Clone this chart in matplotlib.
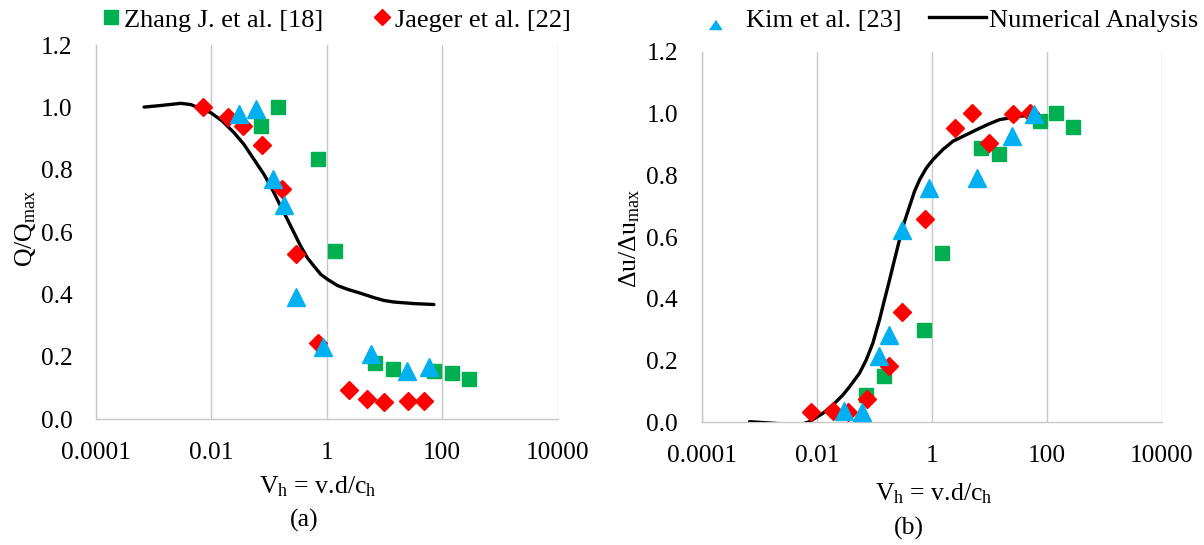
import matplotlib
matplotlib.use('Agg')
import matplotlib.pyplot as plt
from matplotlib.lines import Line2D

plt.rcParams['font.family'] = ['Liberation Serif', 'DejaVu Serif']
plt.rcParams['mathtext.fontset'] = 'custom'
plt.rcParams['mathtext.rm'] = 'Liberation Serif'
plt.rcParams['mathtext.it'] = 'Liberation Serif:italic'

# ---------------- data: panel (a) ----------------
a_zhang_x = [0.143, 0.071, 0.69, 1.41, 6.9, 14.1, 70.8, 144.5, 288]
a_zhang_y = [1.0, 0.94, 0.833, 0.54, 0.18, 0.16, 0.154, 0.148, 0.128]

a_jaeger_x = [0.0072, 0.019, 0.035, 0.074, 0.17, 0.295, 0.69, 2.45, 4.9, 9.8, 25, 49]
a_jaeger_y = [1.0, 0.969, 0.94, 0.881, 0.739, 0.529, 0.246, 0.093, 0.066, 0.057, 0.059, 0.059]

a_kim_x = [0.0295, 0.059, 0.115, 0.178, 0.295, 0.87, 5.9, 24, 60]
a_kim_y = [0.98, 0.996, 0.771, 0.688, 0.393, 0.233, 0.208, 0.155, 0.169]

a_num_x = [0.00068, 0.00132, 0.00294, 0.00439, 0.00653, 0.00973, 0.0155, 0.0246,
           0.0367, 0.0547, 0.0815, 0.106, 0.148, 0.207, 0.270, 0.352, 0.459,
           0.598, 0.782, 1.02, 1.52, 2.26, 3.85, 6.55, 9.75, 14.5, 32.2, 71.6]
a_num_y = [1.001, 1.006, 1.013, 1.009, 0.996, 0.983, 0.956, 0.919,
           0.881, 0.833, 0.785, 0.748, 0.694, 0.641, 0.598, 0.555, 0.518,
           0.491, 0.465, 0.449, 0.429, 0.417, 0.404, 0.390, 0.381, 0.376, 0.371, 0.368]

# ---------------- data: panel (b) ----------------
b_zhang_x = [145, 288, 76, 7.2, 14.5, 1.48, 0.72, 0.145, 0.072]
b_zhang_y = [1.0, 0.955, 0.975, 0.888, 0.868, 0.547, 0.30, 0.149, 0.09]

b_jaeger_x = [0.0078, 0.019, 0.035, 0.076, 0.178, 0.30, 0.76, 2.5, 5.0, 10, 25.7, 50]
b_jaeger_y = [0.033, 0.037, 0.032, 0.075, 0.183, 0.357, 0.657, 0.954, 1.0, 0.905, 0.999, 1.0]

b_kim_x = [0.030, 0.060, 0.123, 0.182, 0.30, 0.91, 6.0, 24.5, 60]
b_kim_y = [0.037, 0.033, 0.216, 0.284, 0.624, 0.76, 0.79, 0.928, 0.999]

b_num_x = [0.00068, 0.00172, 0.0050, 0.00746, 0.0127, 0.0190, 0.0283, 0.0371,
           0.0553, 0.0723, 0.0942, 0.123, 0.150, 0.184, 0.224, 0.274, 0.335,
           0.409, 0.500, 0.611, 0.800, 1.04, 1.55, 2.32, 3.96, 5.92, 10.1,
           15.0, 33.5, 65.5]
b_num_y = [0.002, -0.003, -0.009, 0.002, 0.029, 0.056, 0.088, 0.115,
           0.159, 0.202, 0.256, 0.332, 0.396, 0.461, 0.526, 0.591, 0.650,
           0.699, 0.748, 0.785, 0.823, 0.850, 0.883, 0.910, 0.931, 0.947, 0.967,
           0.980, 0.991, 0.996]

x_ticks = [1e-4, 1e-2, 1, 1e2, 1e4]
x_tick_labels = ['0.0001', '0.01', '1', '100', '10000']
y_ticks = [0.0, 0.2, 0.4, 0.6, 0.8, 1.0, 1.2]
y_tick_labels = ['0.0', '0.2', '0.4', '0.6', '0.8', '1.0', '1.2']

labels = ['Zhang J. et al. [18]', 'Jaeger et al. [22]', 'Kim et al. [23]', 'Numerical Analysis']

GREEN = '#00B050'
RED = '#FF0000'
BLUE = '#00B0F0'
GRID = '#C8C8C8'

W, H = 1204, 545
fig = plt.figure(figsize=(W / 100, H / 100), dpi=100)
axA = fig.add_axes([96 / W, 1 - 419.3 / H, 461.7 / W, 374.3 / H])
axB = fig.add_axes([701.7 / W, 1 - 422.3 / H, 460.3 / W, 370.6 / H])


def style(ax):
    ax.set_xscale('log')
    ax.set_xlim(1e-4, 1e4)
    ax.set_ylim(0, 1.2)
    ax.set_xticks(x_ticks)
    ax.set_xticklabels(x_tick_labels)
    ax.minorticks_off()
    ax.set_yticks(y_ticks)
    ax.set_yticklabels(y_tick_labels)
    ax.tick_params(axis='both', length=0, labelsize=18.3)
    ax.tick_params(axis='x', pad=16.5)
    ax.tick_params(axis='y', pad=17)
    for s in ['top', 'right']:
        ax.spines[s].set_visible(False)
    for s in ['left', 'bottom']:
        ax.spines[s].set_color(GRID)
        ax.spines[s].set_linewidth(1.0)
    ax.grid(axis='x', color=GRID, linewidth=1.0)
    ax.grid(axis='y', visible=False)
    ax.set_axisbelow(True)


def draw(ax, nx, ny, zx, zy, jx, jy, kx, ky):
    ax.plot(nx, ny, color='black', lw=2.4, zorder=3, solid_capstyle='round',
            solid_joinstyle='round')
    ax.plot(zx, zy, ls='none', marker='s', ms=10, color=GREEN, zorder=4, clip_on=False)
    ax.plot(jx, jy, ls='none', marker='D', ms=8.8, color=RED, zorder=5, clip_on=False)
    ax.plot(kx, ky, ls='none', marker='^', ms=12.5, color=BLUE, zorder=6, clip_on=False)


style(axA)
style(axB)
draw(axA, a_num_x, a_num_y, a_zhang_x, a_zhang_y, a_jaeger_x, a_jaeger_y, a_kim_x, a_kim_y)
draw(axB, b_num_x, b_num_y, b_zhang_x, b_zhang_y, b_jaeger_x, b_jaeger_y, b_kim_x, b_kim_y)

# axis labels & captions
fig.text(26 / W, 1 - 228 / H, r'Q/Q$_\mathregular{max}$', rotation=90, ha='center', va='center', fontsize=18.5)
fig.text(630 / W, 1 - 238 / H, r'$\mathregular{\Delta}$u/$\mathregular{\Delta}$u$_\mathregular{max}$',
         rotation=90, ha='center', va='center', fontsize=18.5)
fig.text(317.5 / W, 1 - 493 / H, r'V$_\mathregular{h}$ = v.d/c$_\mathregular{h}$', ha='center', va='baseline', fontsize=18.5)
fig.text(933.5 / W, 1 - 500 / H, r'V$_\mathregular{h}$ = v.d/c$_\mathregular{h}$', ha='center', va='baseline', fontsize=18.5)
fig.text(304.5 / W, 1 - 527 / H, '(a)', ha='center', va='baseline', fontsize=18.5)
fig.text(909 / W, 1 - 535 / H, '(b)', ha='center', va='baseline', fontsize=18.5)

# legends
low_triangle = [(-0.5, -1.0), (0.5, -1.0), (0.0, -0.25)]
h_zhang = Line2D([], [], ls='none', marker='s', ms=10, color=GREEN)
h_jaeger = Line2D([], [], ls='none', marker='D', ms=7.8, color=RED)
h_kim = Line2D([], [], ls='none', marker=low_triangle, ms=17.3, color=BLUE)
h_num = Line2D([], [], color='black', lw=2.4)

fs = 19
leg1 = fig.legend([h_zhang, h_jaeger], labels[:2], loc='center left',
                  bbox_to_anchor=(103.5 / W, 1 - 20 / H), ncol=2, frameon=False,
                  fontsize=fs, borderpad=0, borderaxespad=0, handlelength=0.6,
                  handletextpad=0.19, columnspacing=1.92)
leg2 = fig.legend([h_kim, h_num], labels[2:], loc='center left',
                  bbox_to_anchor=(686 / W, 1 - 20 / H), ncol=2, frameon=False,
                  fontsize=fs, borderpad=0, borderaxespad=0, handlelength=2.16,
                  handletextpad=0.1, columnspacing=1.05)

fig.savefig('out.png', dpi=100)
